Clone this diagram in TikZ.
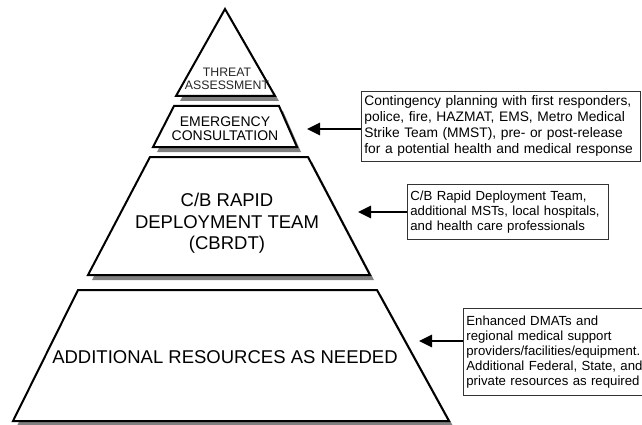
\documentclass[tikz,border=0pt]{standalone}
\usepackage{fontspec}
\setmainfont{Liberation Sans}
\usetikzlibrary{positioning,arrows.meta}

\begin{document}
\begin{tikzpicture}[x=1pt, y=-1pt,
    tier/.style={draw=black, line width=2pt, fill=white},
    tiershadow/.style={fill=black!50, draw=none},
    infobox/.style={draw=black!80, line width=0.8pt, fill=white, align=left,
        anchor=north west, inner xsep=3pt, inner ysep=2pt},
    pointer/.style={-{Triangle[length=13pt, width=12pt]}, line width=2.6pt}]
    \useasboundingbox (0,0) rectangle (642,425);

    % Shadows of the tiers
    \fill[tiershadow, shift={(4,5)}] (225,9) -- (275,96) -- (176,96) -- cycle;
    \fill[tiershadow, shift={(4,5)}] (174,106) -- (279,106) -- (297,147) -- (153,147) -- cycle;
    \fill[tiershadow, shift={(4,5)}] (150,157) -- (308,157) -- (370,275) -- (88,275) -- cycle;
    \fill[tiershadow, shift={(4,5)}] (78,290) -- (377,290) -- (449,421) -- (13,421) -- cycle;

    % Tiers of the pyramid
    \draw[tier] (225,9) -- (275,96) -- (176,96) -- cycle;
    \draw[tier] (174,106) -- (279,106) -- (297,147) -- (153,147) -- cycle;
    \draw[tier] (150,157) -- (308,157) -- (370,275) -- (88,275) -- cycle;
    \draw[tier] (78,290) -- (377,290) -- (449,421) -- (13,421) -- cycle;

    % Tier labels
    \node[align=center, text=black!85, font=\fontsize{12.3}{13}\selectfont] (threat) at (227,78.5) {THREAT\\ASSESSMENT};
    \node[align=center, font=\fontsize{14}{13.5}\selectfont] (emergency) at (225,128.5) {EMERGENCY\\CONSULTATION};
    \node[align=center, font=\fontsize{18.5}{21.5}\selectfont] (cbrdt) at (227,223.5) {C/B RAPID\\DEPLOYMENT TEAM\\(CBRDT)};
    \node[font=\fontsize{18.5}{21.5}\selectfont] (additional) at (225,357) {ADDITIONAL RESOURCES AS NEEDED};

    % Description boxes
    \node[infobox, text width=273pt, minimum height=70pt, font=\fontsize{13.8}{16}\selectfont] (planning) at (361,91)
        {Contingency planning with first responders,\\police, fire, HAZMAT, EMS, Metro Medical\\Strike Team (MMST), pre- or post-release\\for a potential health and medical response};
    \node[infobox, text width=195pt, minimum height=55pt, font=\fontsize{13.2}{15}\selectfont] (deployment) at (407,184)
        {C/B Rapid Deployment Team,\\additional MSTs, local hospitals,\\and health care professionals};
    \node[infobox, text width=190pt, minimum height=87pt, font=\fontsize{13.2}{15}\selectfont] (resources) at (463,308)
        {Enhanced DMATs and\\regional medical support\\providers/facilities/equipment.\\Additional Federal, State, and\\private resources as required};

    % Arrows
    \coordinate (tip1) at (307,129);
    \coordinate (tip2) at (358,212);
    \coordinate (tip3) at (419,341);
    \draw[pointer] (tip1 -| planning.west) -- (tip1);
    \draw[pointer] (tip2 -| deployment.west) -- (tip2);
    \draw[pointer] (tip3 -| resources.west) -- (tip3);
\end{tikzpicture}
\end{document}
